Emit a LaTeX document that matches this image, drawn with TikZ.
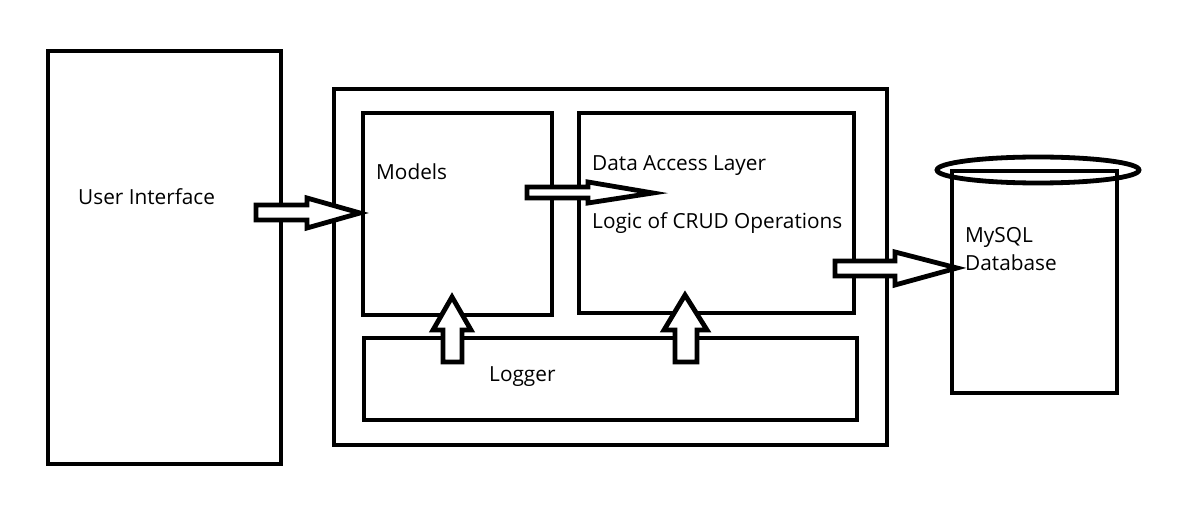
\documentclass[tikz,border=0pt]{standalone}
\usepackage{fontspec}
\setmainfont{Open Sans}
\begin{document}
\begin{tikzpicture}[x=1pt,y=-1pt,
  box/.style={draw=black,line width=4.8pt,rectangle,inner sep=0pt},
  blockarrow/.style={draw=black,line width=4.8pt,fill=white,line join=miter},
  lbl/.style={anchor=base west,inner sep=0pt,font=\fontsize{20.8}{24}\selectfont}]
\useasboundingbox[fill=white] (0,0) rectangle (1188,521);
% boxes
\node[box,minimum width=233pt,minimum height=413pt] (ui) at (164.5,257.5) {};
\node[box,minimum width=553pt,minimum height=356pt] (outer) at (610.5,267) {};
\node[box,minimum width=189pt,minimum height=202pt] (models) at (457.5,214) {};
\node[box,minimum width=275pt,minimum height=200pt] (dal) at (716.5,213) {};
\node[box,minimum width=493pt,minimum height=82pt] (logger) at (610.5,379) {};
% database cylinder
\node[box,minimum width=165pt,minimum height=222pt] (db) at (1034.5,282) {};
\draw[line width=4.8pt] (1038,170) ellipse [x radius=101pt,y radius=13pt];
% labels (base lines)
\node[lbl] (tui) at (78,205) {User Interface};
\node[lbl] (tmod) at (376,180) {Models};
\node[lbl] (tdal) at (592,171) {Data Access Layer};
\node[lbl] (tcrud) at (592,229) {Logic of CRUD Operations};
\node[lbl] (tdb1) at (965,243) {MySQL};
\node[lbl] (tdb2) at (965,271) {Database};
\node[lbl] (tlog) at (489,381) {Logger};
% block arrows
\draw[blockarrow] (256,205) -- (307,205) -- (307,198) -- (360,213) -- (307,228) -- (307,220) -- (256,220) -- cycle;
\draw[blockarrow] (527,187) -- (588,187) -- (588,182) -- (653,193) -- (588,203) -- (588,198) -- (527,198) -- cycle;
\draw[blockarrow] (835,261) -- (895,261) -- (895,252) -- (957,268) -- (895,285) -- (895,276) -- (835,276) -- cycle;
\draw[blockarrow] (443,362) -- (443,330) -- (433,330) -- (452,297) -- (471,330) -- (462,330) -- (462,362) -- cycle;
\draw[blockarrow] (675,362) -- (675,330) -- (664,330) -- (685,295) -- (707,330) -- (697,330) -- (697,362) -- cycle;
\end{tikzpicture}
\end{document}
